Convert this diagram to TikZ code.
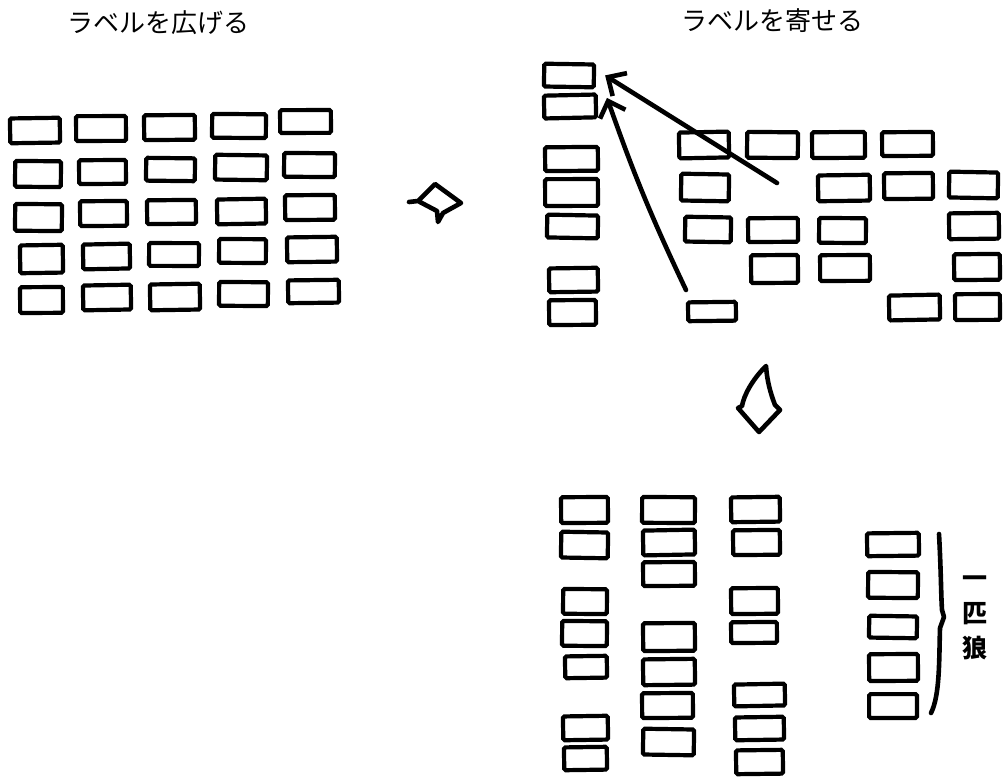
\documentclass[tikz,border=0pt]{standalone}
\usepackage{fontspec}
\newfontfamily\cjk{Noto Sans CJK JP}
\usetikzlibrary{arrows.meta}
\pgfmathsetseed{11}
\newcommand{\bx}[5]{\node[lbl,minimum width={#4-#2-4.2},minimum height={#5-#3-4.2}] (#1) at ({(#2+#4)/2},{(#3+#5)/2}) {};}
\tikzset{
  lbl/.style={draw=black,line width=4.2pt,rounded corners=1.5pt,inner sep=0pt,rotate={rand*1.3}},
  hand/.style={draw=black,line width=4.6pt,line join=round,line cap=round},
  pointer/.style={draw=black,line width=4.6pt,line cap=round,-{Straight Barb[length=14pt,width=27pt,line width=4.6pt]}},
  title/.style={font=\cjk\fontsize{26}{30}\selectfont,inner sep=0pt}
}
\begin{document}
\begin{tikzpicture}[x=1pt,y=-1pt]
\useasboundingbox[fill=white] (0,0) rectangle (1003,776);
% titles
\node[title] (t1) at (158,23) {ラベルを広げる};
\node[title] (t2) at (772,21) {ラベルを寄せる};
% left grid
\bx{g11}{8}{116}{62}{145}\bx{g12}{74}{114}{128}{143}\bx{g13}{142}{113}{197}{142}\bx{g14}{210}{112}{268}{140}\bx{g15}{278}{108}{333}{135}
\bx{g21}{13}{159}{63}{189}\bx{g22}{77}{158}{128}{186}\bx{g23}{144}{156}{197}{183}\bx{g24}{213}{153}{269}{182}\bx{g25}{282}{151}{337}{179}
\bx{g31}{13}{202}{64}{233}\bx{g32}{78}{199}{129}{228}\bx{g33}{145}{198}{198}{226}\bx{g34}{215}{197}{268}{226}\bx{g35}{283}{193}{337}{222}
\bx{g41}{18}{243}{65}{275}\bx{g42}{81}{242}{132}{271}\bx{g43}{147}{241}{201}{268}\bx{g44}{217}{237}{268}{265}\bx{g45}{285}{235}{339}{264}
\bx{g51}{18}{285}{65}{315}\bx{g52}{81}{283}{133}{312}\bx{g53}{148}{282}{202}{312}\bx{g54}{217}{280}{270}{308}\bx{g55}{286}{278}{341}{305}
% right arrow
\draw[hand] (409,202) -- (418,201) -- (435,184) -- (461,203) -- (443,213) -- (438,222) -- (437,211) -- (418,201);
% top right: left column
\bx{L1}{542}{62}{596}{89}\bx{L2}{542}{93}{598}{120}
\bx{L3}{543}{145}{600}{173}\bx{L4}{543}{177}{600}{208}\bx{L5}{545}{213}{600}{240}
\bx{L6}{547}{266}{600}{294}\bx{L7}{547}{298}{598}{327}
% scattered boxes
\bx{m11}{677}{130}{731}{160}\bx{m12}{745}{130}{800}{160}\bx{m13}{810}{130}{867}{160}\bx{m14}{880}{130}{935}{158}
\bx{m21}{679}{172}{731}{203}\bx{m22}{816}{173}{872}{203}\bx{m23}{882}{171}{935}{201}\bx{m24}{947}{170}{1000}{200}
\bx{m31}{683}{215}{733}{244}\bx{m32}{746}{216}{800}{244}\bx{m33}{817}{216}{868}{245}\bx{m34}{947}{211}{1001}{241}
\bx{m41}{749}{253}{800}{285}\bx{m42}{818}{253}{872}{283}\bx{m43}{952}{252}{1002}{282}
\bx{m51}{686}{300}{738}{323}\bx{m52}{887}{293}{942}{322}\bx{m53}{953}{292}{1002}{322}
% arrows
\coordinate (a1) at (777,183);
\coordinate (a2) at (686,290);
\draw[pointer,shorten >=-1pt] (a1) -- ([xshift=10pt]L1.east);
\draw[pointer] (a2) to[bend left=3] ([xshift=9pt,yshift=8pt]L2.east);
% down arrow
\draw[hand] (766,366) .. controls (752,380) and (744,395) .. (742,406) -- (738,408) -- (759,432) -- (780,410) -- (775,405) .. controls (770,392) and (767,380) .. cycle;
% bottom
\bx{b11}{559}{495}{610}{525}\bx{b12}{559}{530}{610}{560}
\bx{b13}{561}{587}{609}{616}\bx{b14}{560}{619}{609}{648}\bx{b15}{563}{654}{609}{680}
\bx{b16}{561}{714}{610}{742}\bx{b17}{562}{745}{609}{772}
\bx{b21}{640}{495}{697}{525}\bx{b22}{641}{528}{697}{557}\bx{b23}{641}{560}{697}{588}
\bx{b24}{641}{621}{697}{653}\bx{b25}{641}{657}{697}{687}\bx{b26}{640}{691}{695}{720}\bx{b27}{641}{727}{696}{757}
\bx{b31}{729}{495}{782}{524}\bx{b32}{731}{528}{782}{557}
\bx{b33}{729}{586}{780}{616}\bx{b34}{729}{620}{779}{645}
\bx{b35}{732}{682}{787}{708}\bx{b36}{733}{715}{786}{742}\bx{b37}{734}{748}{785}{776}
% right stack
\bx{s1}{865}{531}{921}{558}\bx{s2}{866}{570}{920}{600}\bx{s3}{867}{614}{919}{640}\bx{s4}{867}{652}{920}{683}\bx{s5}{867}{692}{919}{720}
% brace
\coordinate (br1) at (939,534);
\coordinate (br2) at (931,713);
\draw[hand] (br1) .. controls (941,570) and (941,595) .. (942,610) -- (944,617) -- (940,628) .. controls (939,660) and (940,695) .. (br2);
\node[font=\cjk\bfseries\fontsize{25}{35}\selectfont,align=center,inner sep=0pt] (w) at (975,618) {一\\匹\\狼};
\end{tikzpicture}
\end{document}
